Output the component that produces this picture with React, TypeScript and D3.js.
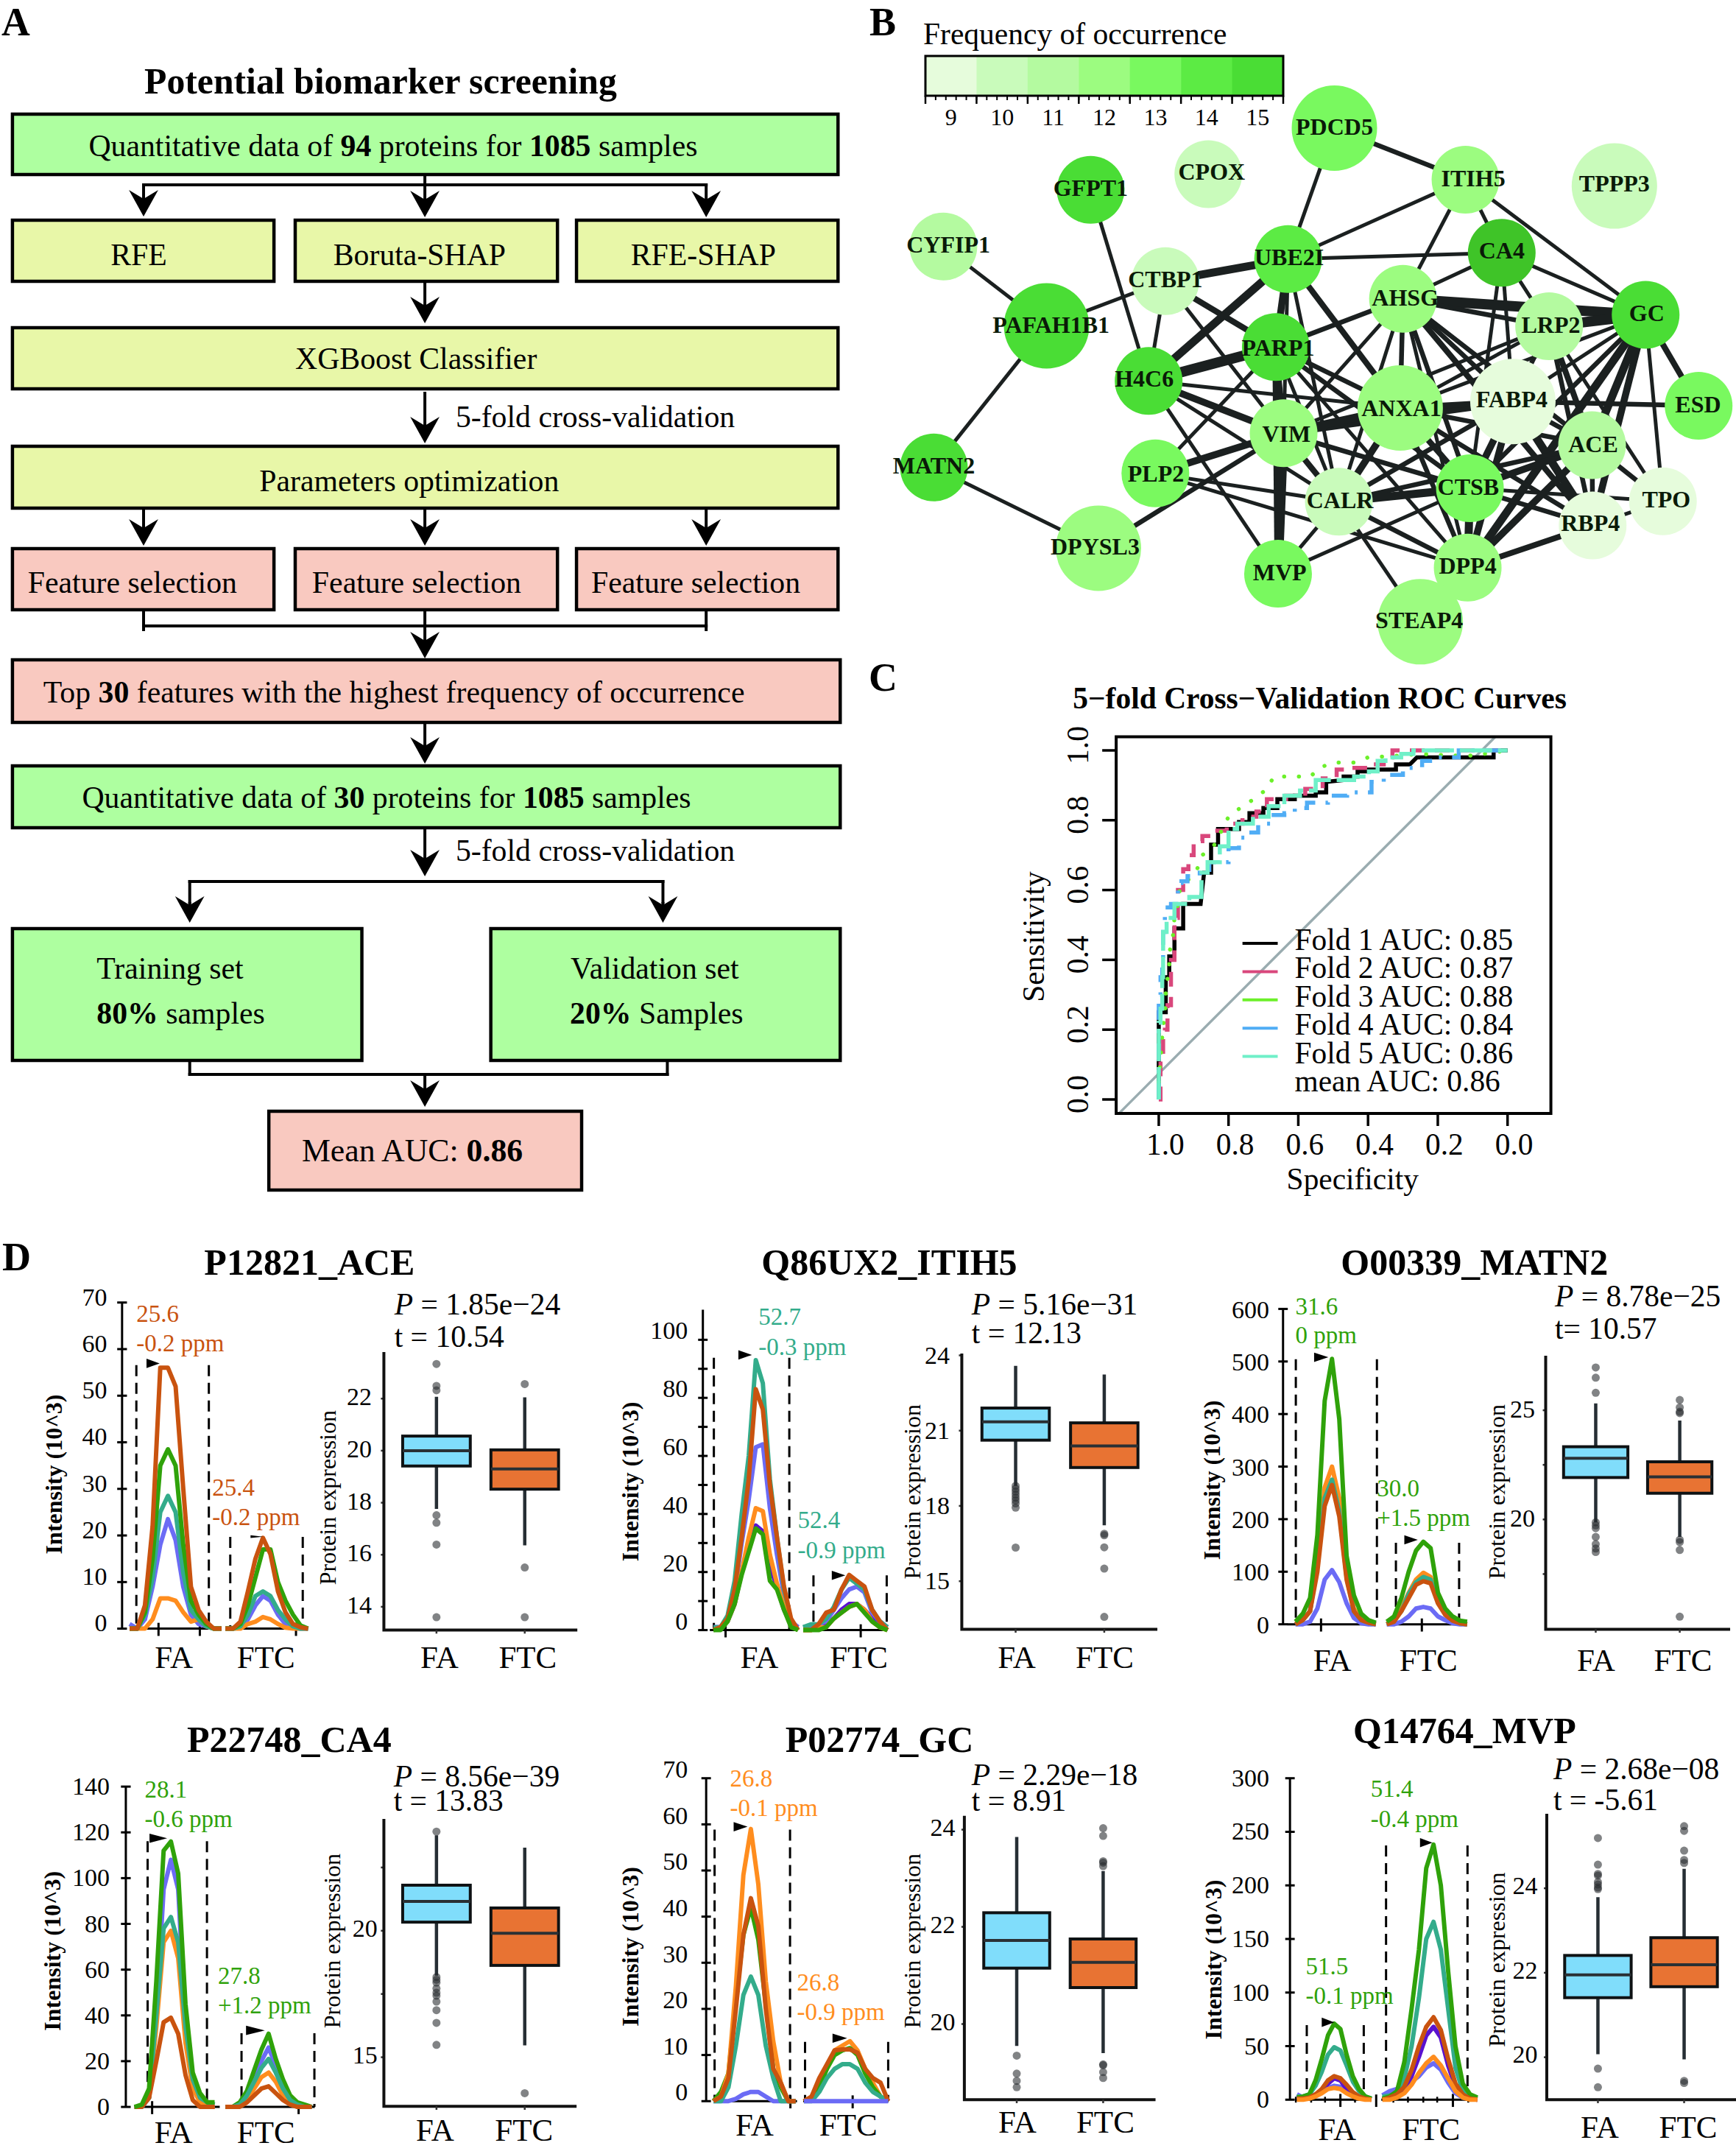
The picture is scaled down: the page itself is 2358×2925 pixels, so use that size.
import * as React from 'react';
import * as d3 from 'd3';

const SERIF = '"Liberation Serif", "Times New Roman", serif';

// ---------- panel A: flow chart ----------
const GREEN = '#AEFFA0';
const YELLOW = '#E8F7A8';
const PINK = '#F9C9C0';

// text parts: plain, **bold** is split on the asterisks
const flowBoxes: [number, number, number, number, string, string, number, number, number?][] = [
    [17, 155, 1127, 82, GREEN, 'Quantitative data of *94* proteins for *1085* samples', 121, 212],
    [17, 299, 357, 83, YELLOW, 'RFE', 151, 360],
    [403, 299, 358, 83, YELLOW, 'Boruta-SHAP', 455, 360],
    [787, 299, 357, 83, YELLOW, 'RFE-SHAP', 861, 360],
    [17, 445, 1127, 83, YELLOW, 'XGBoost Classifier', 403, 501],
    [17, 606, 1127, 84, YELLOW, 'Parameters optimization', 354, 667],
    [17, 745, 357, 83, PINK, 'Feature selection', 38, 805],
    [403, 745, 358, 83, PINK, 'Feature selection', 426, 805],
    [787, 745, 357, 83, PINK, 'Feature selection', 807, 805],
    [17, 896, 1130, 85, PINK, 'Top *30* features with the highest frequency of occurrence', 59, 954],
    [17, 1040, 1130, 84, GREEN, 'Quantitative data of *30* proteins for *1085* samples', 112, 1097],
    [17, 1261, 477, 179, GREEN, 'Training set', 132, 1329],
    [670, 1261, 477, 179, GREEN, 'Validation set', 779, 1329],
    [367, 1509, 427, 107, PINK, 'Mean AUC: *0.86*', 412, 1577, 44],
];
const flowExtraText: [string, number, number][] = [
    ['*80%* samples', 132, 1390],
    ['*20%* Samples', 778, 1390],
    ['5-fold cross-validation', 622, 580],
    ['5-fold cross-validation', 622, 1169],
];
const flowLines: [number, number, number, number][] = [
    [196, 251, 964, 251], [196, 251, 196, 270], [964, 251, 964, 270],
    [196, 850, 964, 850], [196, 828, 196, 855], [964, 828, 964, 855],
    [259, 1197, 905, 1197], [259, 1197, 259, 1225], [905, 1197, 905, 1225],
    [259, 1440, 259, 1459], [911, 1440, 911, 1459], [259, 1459, 911, 1459],
];
const flowArrows: [number, number, number][] = [
    [196, 270, 294], [580, 237, 295], [964, 270, 295],
    [580, 382, 439], [580, 532, 602],
    [196, 690, 741], [580, 690, 741], [964, 690, 741],
    [580, 830, 894], [580, 981, 1037], [580, 1124, 1190],
    [259, 1225, 1253], [905, 1225, 1253], [580, 1459, 1503],
];

// ---------- panel B: network ----------
const freqLevels = [9, 10, 11, 12, 13, 14, 15];
const freqColors = ['#E6FCDC', '#C9FBBB', '#B4FAA0', '#9CFC80', '#79F95F', '#5CEB44', '#4ADD35'];

// name, frequency, large node, layout x, layout y, label x, label baseline
const netNodes: [string, number, boolean, number, number, number, number][] = [
    ['PDCD5', 13, true, 848, 303, 848, 318],
    ['ITIH5', 12, false, 1083, 425, 1097, 440],
    ['TPPP3', 10, true, 1350, 440, 1350, 453],
    ['CPOX', 10, false, 622, 412, 628, 425],
    ['GFPT1', 15, false, 411, 449, 411, 463],
    ['CYFIP1', 11, false, 147, 583, 156, 597],
    ['PAFAH1B1', 15, true, 332, 771, 340, 787],
    ['CTBP1', 10, false, 545, 665, 545, 680],
    ['UBE2I', 14, false, 765, 613, 767, 628],
    ['CA4', 16, false, 1148, 598, 1148, 612],
    ['AHSG', 12, false, 971, 707, 975, 723],
    ['GC', 15, false, 1406, 745, 1408, 760],
    ['LRP2', 11, false, 1233, 772, 1236, 787],
    ['PARP1', 15, false, 743, 821, 747, 842],
    ['H4C6', 15, false, 515, 901, 507, 915],
    ['ANXA1', 12, true, 966, 965, 968, 985],
    ['FABP4', 9, true, 1168, 950, 1166, 963],
    ['ESD', 13, false, 1501, 960, 1500, 975],
    ['ACE', 11, false, 1310, 1053, 1312, 1069],
    ['VIM', 12, false, 757, 1025, 762, 1045],
    ['PLP2', 13, false, 527, 1120, 528, 1140],
    ['MATN2', 15, false, 130, 1106, 130, 1120],
    ['CALR', 10, false, 856, 1187, 858, 1202],
    ['CTSB', 13, false, 1091, 1155, 1088, 1170],
    ['TPO', 9, false, 1437, 1186, 1443, 1200],
    ['RBP4', 9, false, 1311, 1243, 1307, 1257],
    ['DPP4', 12, false, 1087, 1343, 1087, 1357],
    ['MVP', 13, false, 747, 1357, 750, 1372],
    ['DPYSL3', 12, true, 425, 1297, 419, 1312],
    ['STEAP4', 12, true, 1002, 1471, 1000, 1486],
];

const netEdges: [string, string, number][] = [
    ['PDCD5', 'ITIH5', 3], ['PDCD5', 'UBE2I', 2], ['ITIH5', 'UBE2I', 2], ['ITIH5', 'AHSG', 2], ['ITIH5', 'CA4', 2], ['ITIH5', 'GC', 2],
    ['CYFIP1', 'PAFAH1B1', 2], ['PAFAH1B1', 'CTBP1', 2], ['PAFAH1B1', 'MATN2', 2], ['GFPT1', 'H4C6', 2], ['MATN2', 'DPYSL3', 2], ['DPYSL3', 'VIM', 3],
    ['CTBP1', 'UBE2I', 6], ['CTBP1', 'PARP1', 4], ['CTBP1', 'H4C6', 2], ['CTBP1', 'VIM', 2],
    ['UBE2I', 'CA4', 2], ['UBE2I', 'H4C6', 6], ['UBE2I', 'PARP1', 5], ['UBE2I', 'ANXA1', 4], ['UBE2I', 'VIM', 2], ['UBE2I', 'CALR', 2],
    ['PARP1', 'H4C6', 8], ['PARP1', 'AHSG', 3], ['PARP1', 'ANXA1', 3], ['PARP1', 'VIM', 4], ['PARP1', 'MVP', 5], ['PARP1', 'CTSB', 3], ['PARP1', 'DPP4', 2], ['PARP1', 'CALR', 2], ['PARP1', 'PLP2', 2],
    ['H4C6', 'VIM', 5], ['H4C6', 'ANXA1', 2], ['H4C6', 'MVP', 2], ['H4C6', 'CALR', 2],
    ['CA4', 'AHSG', 2], ['CA4', 'GC', 2], ['CA4', 'FABP4', 2], ['CA4', 'LRP2', 2], ['CA4', 'CTSB', 2],
    ['AHSG', 'GC', 8], ['AHSG', 'LRP2', 3], ['AHSG', 'FABP4', 3], ['AHSG', 'ANXA1', 3], ['AHSG', 'VIM', 2], ['AHSG', 'CTSB', 3], ['AHSG', 'CALR', 2], ['AHSG', 'ACE', 3], ['AHSG', 'RBP4', 4], ['AHSG', 'DPP4', 2],
    ['GC', 'LRP2', 8], ['GC', 'FABP4', 2], ['GC', 'ESD', 4], ['GC', 'ACE', 6], ['GC', 'TPO', 2], ['GC', 'RBP4', 5], ['GC', 'CTSB', 3], ['GC', 'ANXA1', 2], ['GC', 'DPP4', 6],
    ['LRP2', 'ANXA1', 2], ['LRP2', 'FABP4', 3], ['LRP2', 'ACE', 4], ['LRP2', 'RBP4', 3], ['LRP2', 'TPO', 2], ['LRP2', 'VIM', 2],
    ['FABP4', 'ESD', 3], ['FABP4', 'VIM', 5], ['ANXA1', 'VIM', 6], ['ANXA1', 'FABP4', 4], ['ANXA1', 'CALR', 5], ['ANXA1', 'CTSB', 4], ['ANXA1', 'ACE', 3], ['ANXA1', 'DPP4', 3], ['ANXA1', 'RBP4', 3],
    ['FABP4', 'CTSB', 5], ['FABP4', 'ACE', 3], ['FABP4', 'RBP4', 6], ['FABP4', 'DPP4', 5], ['FABP4', 'CALR', 3],
    ['ACE', 'CTSB', 5], ['ACE', 'CALR', 3], ['ACE', 'DPP4', 5], ['ACE', 'RBP4', 3], ['ACE', 'TPO', 3],
    ['VIM', 'PLP2', 5], ['VIM', 'CALR', 4], ['VIM', 'CTSB', 3], ['VIM', 'MVP', 7],
    ['PLP2', 'CALR', 2], ['PLP2', 'DPP4', 2],
    ['CALR', 'CTSB', 6], ['CALR', 'MVP', 2], ['CALR', 'DPP4', 3], ['CALR', 'STEAP4', 2],
    ['CTSB', 'MVP', 2], ['CTSB', 'DPP4', 6], ['CTSB', 'RBP4', 3], ['CTSB', 'TPO', 2],
    ['DPP4', 'RBP4', 4], ['RBP4', 'TPO', 2],
];

// ---------- panel C: ROC curves (specificity, sensitivity) ----------
const fold1: [number, number][] = [[1, 0], [1, .25], [.98, .25], [.98, .35], [.97, .35], [.97, .41], [.955, .41], [.955, .49], [.93, .49], [.93, .56], [.88, .56], [.87, .65], [.85, .65], [.85, .73], [.83, .73], [.83, .775], [.77, .775], [.77, .795], [.74, .795], [.74, .82], [.70, .82], [.70, .835], [.66, .835], [.66, .86], [.61, .86], [.61, .87], [.55, .87], [.55, .88], [.52, .88], [.52, .91], [.47, .915], [.47, .925], [.43, .925], [.43, .94], [.40, .94], [.40, .945], [.32, .945], [.32, .96], [.28, .96], [.26, .98], [.04, .98], [.04, 1], [0, 1]];
const fold2: [number, number][] = [[1, 0], [.99, .12], [.985, .18], [.98, .2], [.97, .27], [.96, .40], [.95, .52], [.94, .6], [.92, .66], [.91, .70], [.89, .74], [.86, .755], [.82, .77], [.79, .79], [.73, .81], [.71, .825], [.67, .86], [.6, .87], [.56, .89], [.5, .92], [.48, .945], [.42, .95], [.37, .96], [.34, .98], [.32, 1], [0, 1]];
const fold3: [number, number][] = [[1, .05], [.99, .18], [.985, .23], [.98, .27], [.98, .32], [.97, .37], [.97, .42], [.96, .46], [.955, .52], [.945, .56], [.94, .6], [.89, .66], [.875, .7], [.84, .73], [.8, .81], [.76, .84], [.72, .865], [.69, .89], [.67, .925], [.62, .925], [.565, .925], [.54, .95], [.5, .965], [.44, .965], [.4, .98], [.31, .985], [.25, .99], [.15, .985], [.1, .985], [0, 1]];
const fold4: [number, number][] = [[1, 0], [1, .12], [1, .3], [.99, .35], [.99, .4], [.985, .48], [.98, .55], [.95, .56], [.95, .58], [.94, .62], [.93, .625], [.905, .64], [.86, .65], [.85, .68], [.82, .68], [.78, .72], [.76, .75], [.73, .765], [.7, .79], [.66, .815], [.62, .82], [.6, .835], [.55, .85], [.48, .87], [.44, .88], [.4, .88], [.38, .91], [.33, .93], [.27, .95], [.22, .97], [.18, .98], [.1, 1], [0, 1]];
const fold5: [number, number][] = [[1, 0], [1, .22], [.99, .26], [.99, .35], [.985, .48], [.97, .52], [.94, .56], [.885, .58], [.87, .65], [.85, .68], [.8, .725], [.8, .775], [.75, .79], [.71, .81], [.66, .84], [.62, .87], [.57, .885], [.53, .915], [.46, .915], [.42, .925], [.375, .94], [.37, .97], [.33, .98], [.28, .99], [.26, 1], [0, 1]];
const rocCurves: [[number, number][], string, string, boolean][] = [
    [fold1, '#000000', 'none', false],
    [fold2, '#D9477C', '20 14', true],
    [fold3, '#6CF02A', '0.1 20', false],
    [fold4, '#50ADF5', '22 14 4 14', true],
    [fold5, '#6FF0C8', '44 8', true],
];
const rocLegend = ['Fold 1 AUC: 0.85', 'Fold 2 AUC: 0.87', 'Fold 3 AUC: 0.88', 'Fold 4 AUC: 0.84', 'Fold 5 AUC: 0.86', 'mean AUC: 0.86'];
const rocTicks = [0, 0.2, 0.4, 0.6, 0.8, 1];

// ---------- panel D: peaks and boxes ----------
const TRACE: Record<string, string> = {
    red: '#C9530F', green: '#2FA20A', teal: '#33AC8B', blue: '#6B6BF5', orange: '#FF8D1E', purple: '#5A12CF',
};
type Trace = [string, number[]];

const aceFa: Trace[] = [
    ['blue', [1, 0, 2, 9, 18, 23.5, 19, 9, 3, 1, .5, 0, 0]],
    ['orange', [0, 0, 0, 2, 6.5, 6.5, 6, 3.5, 1.5, 2, .5, 0, 0]],
    ['teal', [0, 0, 3, 11, 25, 28.5, 25, 12, 4, 2, .5, 0, 0]],
    ['green', [0, 0, 3.5, 15, 35, 38.5, 35, 18, 6, 3, 1, 0, 0]],
    ['red', [0, 0, 5, 22, 56, 56, 52, 30, 9, 4, 1.5, 0, 0]],
];
const aceFtc: Trace[] = [
    ['blue', [0, 0, .2, 2, 5, 7, 6, 3, 1, .2, 0, 0]],
    ['orange', [0, 0, 0, 1, 1.5, 2.5, 2, 1, .2, 0, 0, 0]],
    ['teal', [0, 0, .5, 3, 7, 8, 7, 4, 2, .5, 0, 0]],
    ['green', [0, 0, 1, 5, 11, 17, 17, 10, 6, 3, .7, 0]],
    ['red', [0, 0, 1.5, 8, 15, 19.5, 16, 8, 3.5, 1, .3, 0]],
];
const itihFa: Trace[] = [
    ['purple', [1, 1, 3, 9, 20, 28, 36, 34, 22, 15, 7, 2, 1]],
    ['blue', [1, 1, 4, 13, 30, 45, 63, 64, 42, 26, 12, 3, 1]],
    ['teal', [1, 1, 5, 17, 40, 60, 93, 85, 52, 32, 14, 3, 0]],
    ['orange', [0, 1, 3, 9, 20, 32, 42, 41, 26, 16, 8, 2, 0]],
    ['red', [0, 1, 4, 14, 32, 52, 83, 76, 50, 32, 15, 4, 0]],
    ['green', [0, 0, 3, 9, 19, 27, 35, 33, 17, 14, 7, 1, 0]],
];
const itihFtc: Trace[] = [
    ['purple', [1, 1, 1, 2, 4, 7, 9, 9, 7, 4, 2, 1]],
    ['blue', [1, 1, 2, 3, 7, 11, 14, 15, 13, 6, 3, 1]],
    ['teal', [1, 2, 2, 4, 8, 14, 18, 16, 14, 7, 3, 1]],
    ['orange', [0, 0, 1, 1, 4, 6, 8, 9, 7, 3, 1, 0]],
    ['red', [0, 0, 2, 6, 7, 14, 19, 17, 15, 7, 3, 0]],
    ['green', [0, 0, 0, 1, 4, 6, 8, 9, 6, 3, 1, 0]],
];
const matnFa: Trace[] = [
    ['blue', [0, 0, 5, 30, 85, 103, 80, 40, 12, 2, 0, 0]],
    ['orange', [0, 8, 25, 120, 260, 300, 240, 100, 30, 10, 3, 0]],
    ['teal', [0, 8, 25, 115, 240, 275, 215, 90, 25, 8, 3, 0]],
    ['red', [0, 8, 25, 100, 225, 265, 205, 85, 25, 8, 3, 0]],
    ['green', [5, 20, 50, 170, 425, 505, 390, 130, 55, 20, 8, 3]],
];
const matnFtc: Trace[] = [
    ['blue', [0, 0, 5, 15, 30, 33, 30, 15, 8, 2, 0, 0]],
    ['orange', [0, 8, 30, 60, 85, 98, 90, 50, 20, 8, 2, 0]],
    ['teal', [0, 8, 25, 58, 80, 90, 85, 45, 20, 8, 2, 0]],
    ['red', [0, 5, 25, 50, 75, 82, 78, 40, 18, 7, 2, 0]],
    ['green', [5, 15, 50, 100, 140, 157, 145, 60, 30, 15, 7, 5]],
];
const ca4Fa: Trace[] = [
    ['blue', [0, 0, 4, 40, 95, 108, 95, 35, 10, 3, 0, 0]],
    ['orange', [0, 0, 4, 35, 72, 77, 65, 28, 8, 2, 0, 0]],
    ['teal', [0, 0, 4, 40, 78, 83, 72, 35, 12, 4, 2, 1]],
    ['red', [0, 0, 4, 20, 37, 39, 32, 14, 3, 0, 0, 0]],
    ['green', [0, 1, 8, 55, 112, 116, 102, 45, 15, 6, 2, 2]],
];
const ca4Ftc: Trace[] = [
    ['blue', [0, 0, 1, 5, 11, 20, 26, 18, 10, 4, 1, 0, 0]],
    ['orange', [0, 0, 1, 3, 8, 13, 15, 11, 5, 2, 0, 0, 0]],
    ['green', [0, 0, 2, 7, 16, 25, 32, 21, 12, 5, 2, 1, 0]],
    ['teal', [0, 0, 1, 5, 11, 17, 21, 15, 8, 3, 1, 0, 0]],
    ['red', [0, 0, 0, 2, 5, 8, 9, 6, 3, 1, 0, 0, 0]],
];
const gcFa: Trace[] = [
    ['blue', [0, 0, 0, .5, 1.5, 2, 2, 1, 0, 0, 0, 0]],
    ['green', [0, 2, 6, 22, 36, 42, 35, 21, 7, 3, 0, 0]],
    ['orange', [0, 1, 6, 25, 49, 59, 47, 26, 13, 4, 0, 0]],
    ['teal', [0, 0, 3, 12, 23, 27, 23, 12, 5, 0, 0, 0]],
    ['red', [0, 1, 5, 20, 36, 44, 38, 20, 7, 4, 0, 0]],
];
const gcFtc: Trace[] = [
    ['orange', [0, 1, 4, 7, 11, 12, 13, 11, 7, 4, 1, 0]],
    ['green', [0, .5, 3, 7, 10, 11, 11.5, 10, 6, 3, 1, 0]],
    ['teal', [0, 0, 2, 5, 7, 8, 8, 7, 4, 2, 1, 0]],
    ['red', [0, 1, 5, 8, 11, 11.2, 11.2, 10.5, 7, 5, 4, 0]],
    ['blue', [0, 0, 0, 0, 0, 0, 0, 0, 0, 0, 0, 0]],
];
const mvpFa: Trace[] = [
    ['blue', [5, 2, 3, 5, 7, 11, 13, 12, 8, 4, 2, 1, 1]],
    ['purple', [2, 1, 2, 4, 8, 15, 20, 18, 10, 5, 2, 1, 0]],
    ['teal', [3, 3, 5, 13, 26, 42, 49, 46, 32, 17, 8, 3, 1]],
    ['green', [2, 3, 5, 18, 38, 60, 71, 66, 42, 22, 10, 3, 1]],
    ['red', [1, 1, 2, 5, 10, 18, 22, 20, 14, 7, 3, 1, 0]],
    ['orange', [0, 0, 1, 3, 6, 10, 11, 10, 6, 3, 1, 0, 0]],
];
const mvpFtc: Trace[] = [
    ['blue', [4, 8, 10, 13, 17, 22, 30, 34, 28, 16, 6, 2, 1, 0]],
    ['purple', [1, 3, 5, 10, 22, 40, 60, 68, 58, 32, 12, 3, 1, 0]],
    ['teal', [3, 4, 6, 20, 50, 95, 150, 166, 140, 85, 30, 8, 3, 1]],
    ['green', [1, 3, 8, 35, 85, 140, 216, 238, 200, 120, 50, 15, 5, 2]],
    ['red', [0, 2, 5, 12, 28, 50, 68, 77, 65, 38, 15, 5, 1, 0]],
    ['orange', [0, 0, 2, 6, 14, 25, 34, 40, 32, 20, 8, 2, 0, 0]],
];

// hi, q3, median, q1, lo, outliers
type Box = [number, number, number, number, number, number[]];
const aceBoxFa: Box = [22.07, 20.56, 20.0, 19.41, 17.76, [23.33, 22.49, 22.32, 17.52, 17.23, 16.39, 13.6]];
const aceBoxFtc: Box = [22.05, 20.03, 19.3, 18.52, 16.36, [22.56, 15.51, 13.6]];
const itihBoxFa: Box = [23.58, 21.9, 21.35, 20.62, 18.8, [18.8, 18.68, 18.57, 18.45, 18.33, 18.22, 18.1, 17.93, 16.34]];
const itihBoxFtc: Box = [23.24, 21.31, 20.39, 19.53, 17.23, [16.89, 16.83, 16.35, 15.5, 13.58]];
const matnBoxFa: Box = [25.31, 23.33, 22.8, 21.92, 19.87, [26.96, 26.49, 25.8, 19.87, 19.73, 19.6, 19.2, 18.87, 18.67, 18.51]];
const matnBoxFtc: Box = [24.53, 22.64, 21.95, 21.2, 19.2, [25.47, 25.13, 24.93, 24.87, 19.07, 18.96, 18.6, 15.55]];
const ca4BoxFa: Box = [23.77, 21.8, 21.16, 20.34, 18.23, [23.92, 18.17, 18.06, 17.95, 17.72, 17.55, 17.43, 17.2, 16.86, 16.36, 15.49]];
const ca4BoxFtc: Box = [23.28, 20.9, 19.9, 18.63, 15.47, [13.58]];
const gcBoxFa: Box = [23.85, 22.29, 21.72, 21.15, 19.55, [19.35, 18.98, 18.83, 18.7]];
const gcBoxFtc: Box = [23.15, 21.75, 21.27, 20.75, 19.4, [24.03, 23.87, 23.35, 23.32, 23.25, 19.17, 19.15, 19.01, 18.89]];
const mvpBoxFa: Box = [23.79, 22.41, 21.95, 21.41, 20.07, [25.19, 24.56, 24.34, 24.3, 24.15, 24.09, 24.02, 23.98, 19.73, 19.29]];
const mvpBoxFtc: Box = [24.46, 22.83, 22.19, 21.67, 19.95, [25.47, 25.36, 24.89, 24.67, 24.6, 19.44, 19.39]];

// layout numbers of a panel are in units of its own crop: 1568 wide and 1568 high
interface Panel {
    title: string; titleX: number; titleY: number;
    crop: [number, number, number, number];
    yMax: number; yStep: number; yLabelStep: number;
    axisX: number; y0: number; yTop: number; axisTop: number; labelX: number; labelDy: number;
    yTitleX: number; yTitleY: number;
    faBase: [number, number]; ftcBase: [number, number]; xTicks: number[]; minorTicks: number[]; breakX?: number;
    faLabel: number; ftcLabel: number; labelY: number;
    faDash: [number, number, number]; ftcDash: [number, number, number];
    faGrid: [number, number]; ftcGrid: [number, number];
    fa: Trace[]; ftc: Trace[];
    notes: { color: string; x: number; y1: number; y2: number; lines: [string, string]; marker: [number, number, number, number] }[];
    stats: [string, string]; statsX: number; statsY: [number, number];
    boxAxis: { x: number; top: number; bottom: number; right: number };
    boxScale: [number, number, number, number];
    boxTicks: number[]; boxLabels: number[]; boxLabelX: number; boxLabelDy: number;
    faBox: Box; ftcBox: Box;
    faC: number; ftcC: number; halfW: number;
    boxFaLabel: number; boxFtcLabel: number; boxLabelY: number;
    protX: number; protY: number;
}

const panels: Panel[] = [
    {
        title: 'P12821_ACE', titleX: 824, titleY: 180, crop: [0, 1660, 800, 620],
        yMax: 70, yStep: 10, yLabelStep: 10, axisX: 325, y0: 1395, yTop: 275, axisTop: 275, labelX: 285, labelDy: -18,
        yTitleX: 165, yTitleY: 865, faBase: [345, 590], ftcBase: [600, 820], xTicks: [422, 532, 788], minorTicks: [],
        faLabel: 463, ftcLabel: 708, labelY: 1530, faDash: [363, 556, 490], ftcDash: [613, 806, 1080],
        faGrid: [345, 590], ftcGrid: [600, 820], fa: aceFa, ftc: aceFtc,
        notes: [
            { color: TRACE.red, x: 363, y1: 342, y2: 443, lines: ['25.6', '-0.2 ppm'], marker: [390, 425, 484, 32] },
            { color: TRACE.red, x: 565, y1: 938, y2: 1040, lines: ['25.4', '-0.2 ppm'], marker: [667, 700, 1079, 10] },
        ],
        stats: ['1.85e\u221224', 't = 10.54'], statsX: 1050, statsY: [315, 428],
        boxAxis: { x: 1022, top: 445, bottom: 1400, right: 1537 }, boxScale: [14, 1320, 22, 605],
        boxTicks: [14, 16, 18, 20, 22], boxLabels: [14, 16, 18, 20, 22], boxLabelX: 990, boxLabelDy: -5,
        faBox: aceBoxFa, ftcBox: aceBoxFtc, faC: 1162, ftcC: 1397, halfW: 90,
        boxFaLabel: 1170, boxFtcLabel: 1405, boxLabelY: 1530, protX: 893, protY: 945,
    },
    {
        title: 'Q86UX2_ITIH5', titleX: 820, titleY: 180, crop: [800, 1660, 780, 620],
        yMax: 100, yStep: 10, yLabelStep: 20, axisX: 311, y0: 1400, yTop: 403, axisTop: 300, labelX: 270, labelDy: -30,
        yTitleX: 135, yTitleY: 890, faBase: [330, 568], ftcBase: [585, 815], xTicks: [373, 742], minorTicks: [],
        faLabel: 465, ftcLabel: 737, labelY: 1530, faDash: [341, 547, 465], ftcDash: [613, 813, 1212],
        faGrid: [340, 571], ftcGrid: [585, 815], fa: itihFa, ftc: itihFtc,
        notes: [
            { color: TRACE.teal, x: 463, y1: 352, y2: 455, lines: ['52.7', '-0.3 ppm'], marker: [408, 445, 455, 32] },
            { color: TRACE.teal, x: 570, y1: 1050, y2: 1153, lines: ['52.4', '-0.9 ppm'], marker: [663, 700, 1212, 32] },
        ],
        stats: ['5.16e\u221231', 't = 12.13'], statsX: 1045, statsY: [315, 415],
        boxAxis: { x: 1018, top: 450, bottom: 1397, right: 1552 }, boxScale: [15, 1232, 21, 715],
        boxTicks: [15, 18, 21, 24], boxLabels: [15, 18, 21, 24], boxLabelX: 985, boxLabelDy: 0,
        faBox: itihBoxFa, ftcBox: itihBoxFtc, faC: 1165, ftcC: 1407, halfW: 92,
        boxFaLabel: 1168, boxFtcLabel: 1408, boxLabelY: 1530, protX: 905, protY: 925,
    },
    {
        title: 'O00339_MATN2', titleX: 852, titleY: 180, crop: [1580, 1660, 778, 620],
        yMax: 600, yStep: 100, yLabelStep: 100, axisX: 328, y0: 1380, yTop: 297, axisTop: 297, labelX: 290, labelDy: 3,
        yTitleX: 155, yTitleY: 885, faBase: [340, 582], ftcBase: [612, 832], xTicks: [432, 708], minorTicks: [],
        faLabel: 463, ftcLabel: 726, labelY: 1540, faDash: [363, 585, 470], ftcDash: [637, 810, 1100],
        faGrid: [362, 582], ftcGrid: [612, 832], fa: matnFa, ftc: matnFtc,
        notes: [
            { color: TRACE.green, x: 362, y1: 315, y2: 415, lines: ['31.6', '0 ppm'], marker: [413, 452, 463, 32] },
            { color: TRACE.green, x: 585, y1: 942, y2: 1043, lines: ['30.0', '+1.5 ppm'], marker: [660, 697, 1090, 32] },
        ],
        stats: ['8.78e\u221225', 't= 10.57'], statsX: 1072, statsY: [288, 400],
        boxAxis: { x: 1047, top: 458, bottom: 1397, right: 1552 }, boxScale: [20, 1020, 25, 645],
        boxTicks: [17.5, 20, 22.5, 25], boxLabels: [20, 25], boxLabelX: 1018, boxLabelDy: -3,
        faBox: matnBoxFa, ftcBox: matnBoxFtc, faC: 1184, ftcC: 1414, halfW: 88,
        boxFaLabel: 1185, boxFtcLabel: 1423, boxLabelY: 1540, protX: 935, protY: 925,
    },
    {
        title: 'P22748_CA4', titleX: 770, titleY: 175, crop: [0, 2310, 800, 615],
        yMax: 140, yStep: 20, yLabelStep: 20, axisX: 335, y0: 1405, yTop: 296, axisTop: 296, labelX: 292, labelDy: 0,
        yTitleX: 160, yTitleY: 865, faBase: [358, 585], ftcBase: [600, 838], xTicks: [405, 795], minorTicks: [],
        faLabel: 462, ftcLabel: 708, labelY: 1530, faDash: [393, 551, 485], ftcDash: [643, 837, 1150],
        faGrid: [358, 571.4], ftcGrid: [600, 830], fa: ca4Fa, ftc: ca4Ftc,
        notes: [
            { color: TRACE.green, x: 385, y1: 335, y2: 437, lines: ['28.1', '-0.6 ppm'], marker: [398, 445, 475, 32] },
            { color: TRACE.green, x: 580, y1: 978, y2: 1080, lines: ['27.8', '+1.2 ppm'], marker: [655, 705, 1140, 32] },
        ],
        stats: ['8.56e\u221239', 't = 13.83'], statsX: 1048, statsY: [295, 380],
        boxAxis: { x: 1022, top: 408, bottom: 1403, right: 1535 }, boxScale: [15, 1233, 20, 795],
        boxTicks: [15, 17.5, 20, 22.5], boxLabels: [15, 20], boxLabelX: 1005, boxLabelDy: -6,
        faBox: ca4BoxFa, ftcBox: ca4BoxFtc, faC: 1162, ftcC: 1397, halfW: 90,
        boxFaLabel: 1158, boxFtcLabel: 1395, boxLabelY: 1522, protX: 905, protY: 830,
    },
    {
        title: 'P02774_GC', titleX: 793, titleY: 175, crop: [800, 2310, 780, 615],
        yMax: 70, yStep: 10, yLabelStep: 10, axisX: 320, y0: 1385, yTop: 267, axisTop: 267, labelX: 270, labelDy: -30,
        yTitleX: 135, yTitleY: 850, faBase: [345, 568], ftcBase: [585, 818], xTicks: [550, 720], minorTicks: [],
        faLabel: 452, ftcLabel: 708, labelY: 1505, faDash: [343, 549, 445], ftcDash: [590, 817, 1180],
        faGrid: [340, 564.4], ftcGrid: [587, 817], fa: gcFa, ftc: gcFtc,
        notes: [
            { color: TRACE.orange, x: 385, y1: 295, y2: 397, lines: ['26.8', '-0.1 ppm'], marker: [395, 433, 435, 32] },
            { color: TRACE.orange, x: 568, y1: 1003, y2: 1105, lines: ['26.8', '-0.9 ppm'], marker: [665, 705, 1167, 32] },
        ],
        stats: ['2.29e\u221218', 't = 8.91'], statsX: 1045, statsY: [290, 380],
        boxAxis: { x: 1025, top: 397, bottom: 1380, right: 1547 }, boxScale: [20, 1118, 24, 445],
        boxTicks: [20, 22, 24], boxLabels: [20, 22, 24], boxLabelX: 1000, boxLabelDy: -6,
        faBox: gcBoxFa, ftcBox: gcBoxFtc, faC: 1168, ftcC: 1404, halfW: 90,
        boxFaLabel: 1170, boxFtcLabel: 1410, boxLabelY: 1495, protX: 905, protY: 830,
    },
    {
        title: 'Q14764_MVP', titleX: 825, titleY: 145, crop: [1580, 2310, 778, 615],
        yMax: 300, yStep: 50, yLabelStep: 50, axisX: 347, y0: 1380, yTop: 267, axisTop: 267, labelX: 290, labelDy: 0,
        yTitleX: 160, yTitleY: 895, faBase: [362, 568], ftcBase: [597, 857], xTicks: [485, 793],
        minorTicks: [363, 405, 443, 525, 630, 670, 712, 750, 835], breakX: 583,
        faLabel: 476, ftcLabel: 733, labelY: 1520, faDash: [393, 549, 1122], ftcDash: [610, 833, 500],
        faGrid: [366, 570], ftcGrid: [600, 860], fa: mvpFa, ftc: mvpFtc,
        notes: [
            { color: TRACE.green, x: 390, y1: 945, y2: 1047, lines: ['51.5', '-0.1 ppm'], marker: [434, 468, 1112, 32] },
            { color: TRACE.green, x: 568, y1: 332, y2: 435, lines: ['51.4', '-0.4 ppm'], marker: [703, 737, 490, 32] },
        ],
        stats: ['2.68e\u221208', 't = -5.61'], statsX: 1068, statsY: [270, 378],
        boxAxis: { x: 1050, top: 390, bottom: 1380, right: 1568 }, boxScale: [20, 1233, 24, 648],
        boxTicks: [20, 22, 24], boxLabels: [20, 22, 24], boxLabelX: 1025, boxLabelDy: -8,
        faBox: mvpBoxFa, ftcBox: mvpBoxFtc, faC: 1190, ftcC: 1426, halfW: 91,
        boxFaLabel: 1195, boxFtcLabel: 1437, boxLabelY: 1512, protX: 935, protY: 895,
    },
];

const Rich: React.FC<{ s: string; x: number; y: number; size: number }> = ({ s, x, y, size }) => (
    <text x={x} y={y} fontFamily={SERIF} fontSize={size} fill="#000">
        {s.split('*').map((part, i) => (
            <tspan key={i} fontWeight={i % 2 ? 'bold' : 'normal'}>{part}</tspan>
        ))}
    </text>
);

const Arrow: React.FC<{ x: number; from: number; to: number }> = ({ x, from, to }) => (
    <g>
        <line x1={x} x2={x} y1={from} y2={to - 20} stroke="#000" strokeWidth={4} />
        <path d={`M${x},${to}L${x - 20},${to - 36}L${x},${to - 24}L${x + 20},${to - 36}Z`} fill="#000" />
    </g>
);

const FlowChart: React.FC = () => (
    <g transform="scale(0.995,1)">
        <text x={2} y={48.5} fontFamily={SERIF} fontSize={54} fontWeight="bold">A</text>
        <text x={197} y={127} fontFamily={SERIF} fontSize={50} fontWeight="bold">Potential biomarker screening</text>
        {flowLines.map((l, i) => (
            <line key={i} x1={l[0]} y1={l[1]} x2={l[2]} y2={l[3]} stroke="#000" strokeWidth={4} strokeLinecap="square" />
        ))}
        {flowArrows.map((a, i) => <Arrow key={i} x={a[0]} from={a[1]} to={a[2]} />)}
        {flowBoxes.map((b, i) => (
            <g key={i}>
                <rect x={b[0]} y={b[1]} width={b[2]} height={b[3]} fill={b[4]} stroke="#000" strokeWidth={4.5} />
                <Rich s={b[5]} x={b[6]} y={b[7]} size={b[8] ?? 42} />
            </g>
        ))}
        {flowExtraText.map((t, i) => <Rich key={i} s={t[0]} x={t[1]} y={t[2]} size={42} />)}
    </g>
);

const Network: React.FC = () => {
    const nx = d3.scaleLinear().domain([0, 1568]).range([1170, 2358]);
    const ny = d3.scaleLinear().domain([0, 1568]).range([0, 900]);
    const color = d3.scaleOrdinal<number, string>().domain([...freqLevels, 16]).range([...freqColors, '#3FC428']);
    const band = d3.scaleBand<number>().domain(freqLevels).range([1257, 1743]);
    const byName = new Map(netNodes.map(n => [n[0], n]));
    const edgeWidth = d3.scaleLinear().domain([2, 8]).range([5, 14]);
    const minor = d3.range(0, 35).map(i => 1257 + (i * 486) / 35);
    return (
        <g>
            <text x={1181} y={48} fontFamily={SERIF} fontSize={54} fontWeight="bold">B</text>
            <text x={1254} y={60} fontFamily={SERIF} fontSize={41.5}>Frequency of occurrence</text>
            {freqLevels.map(f => (
                <rect key={f} x={band(f)} y={76} width={band.bandwidth() + 0.5} height={54} fill={color(f)} />
            ))}
            <rect x={1257} y={76} width={486} height={54} fill="none" stroke="#000" strokeWidth={3} />
            {minor.map((x, i) => <line key={i} x1={x} x2={x} y1={130} y2={136} stroke="#000" strokeWidth={2} />)}
            {[...freqLevels.map(f => band(f) as number), 1743].map((x, i) => (
                <line key={i} x1={x} x2={x} y1={130} y2={141} stroke="#000" strokeWidth={2.5} />
            ))}
            {freqLevels.map(f => (
                <text key={f} x={(band(f) as number) + band.bandwidth() / 2} y={170} textAnchor="middle" fontFamily={SERIF} fontSize={32}>{f}</text>
            ))}
            {netEdges.map(([a, b, w], i) => {
                const na = byName.get(a)!;
                const nb = byName.get(b)!;
                return <line key={i} x1={nx(na[3])} y1={ny(na[4])} x2={nx(nb[3])} y2={ny(nb[4])} stroke="#1B2020" strokeWidth={edgeWidth(w)} />;
            })}
            {netNodes.map(n => (
                <circle key={n[0]} cx={nx(n[3])} cy={ny(n[4])} r={n[2] ? 58 : 46} fill={color(n[1])} />
            ))}
            {netNodes.map(n => (
                <text key={n[0]} x={nx(n[5])} y={ny(n[6])} textAnchor="middle" fontFamily={SERIF} fontWeight="bold" fontSize={32} fill="#0a1a08">{n[0]}</text>
            ))}
        </g>
    );
};

const Roc: React.FC = () => {
    const x = d3.scaleLinear().domain([1, 0]).range([1575, 2050]);
    const y = d3.scaleLinear().domain([0, 1]).range([1493, 1019]);
    const legendY = d3.scaleLinear().domain([0, 1]).range([1290, 1328.4]);
    return (
        <g transform="translate(1170,0) scale(0.9974,1) translate(-1170,0)">
            <text x={1180} y={938} fontFamily={SERIF} fontSize={54} fontWeight="bold">C</text>
            <text x={1458} y={962} fontFamily={SERIF} fontSize={41.6} fontWeight="bold">5{'\u2212'}fold Cross{'\u2212'}Validation ROC Curves</text>
            <line x1={x(1.114)} y1={y(-0.04)} x2={x(0.034)} y2={y(1.04)} stroke="#9AACB0" strokeWidth={3.5} />
            {rocCurves.map(([pts, stroke, dash, stepped], i) => {
                const line = d3.line<[number, number]>().x(d => x(d[0])).y(d => y(d[1])).curve(stepped ? d3.curveStep : d3.curveLinear);
                return (
                    <path key={i} d={line(pts) ?? ''} fill="none" stroke={stroke} strokeWidth={5.5}
                        strokeDasharray={dash === 'none' ? undefined : dash}
                        strokeLinecap={dash === '0.1 20' ? 'round' : 'butt'} />
                );
            })}
            <rect x={1517} y={1000.5} width={592} height={511.5} fill="none" stroke="#000" strokeWidth={4} />
            {rocTicks.map(t => (
                <g key={t}>
                    <line x1={x(t)} x2={x(t)} y1={1512} y2={1529} stroke="#000" strokeWidth={3.5} />
                    <text x={x(t) + 9} y={1568} textAnchor="middle" fontFamily={SERIF} fontSize={41.5}>{t.toFixed(1)}</text>
                    <line x1={1498} x2={1517} y1={y(t)} y2={y(t)} stroke="#000" strokeWidth={3.5} />
                    <text transform={`translate(1479,${y(t) - 7}) rotate(-90)`} textAnchor="middle" fontFamily={SERIF} fontSize={41.5}>{t.toFixed(1)}</text>
                </g>
            ))}
            <text x={1839} y={1615} textAnchor="middle" fontFamily={SERIF} fontSize={41.5}>Specificity</text>
            <text transform="translate(1419,1272) rotate(-90)" textAnchor="middle" fontFamily={SERIF} fontSize={41.5}>Sensitivity</text>
            {rocLegend.map((t, i) => (
                <g key={t}>
                    {i < 5 && <line x1={1689} x2={1737} y1={legendY(i) - 9} y2={legendY(i) - 9} stroke={rocCurves[i][1]} strokeWidth={4} />}
                    <text x={1760} y={legendY(i)} fontFamily={SERIF} fontSize={41.5}>{t}</text>
                </g>
            ))}
        </g>
    );
};

const PeakPanel: React.FC<{ p: Panel }> = ({ p }) => {
    const [cx0, cy0, cw, ch] = p.crop;
    const X = d3.scaleLinear().domain([0, 1568]).range([cx0, cx0 + cw]);
    const Y = d3.scaleLinear().domain([0, 1568]).range([cy0, cy0 + ch]);
    const yInt = d3.scaleLinear().domain([0, p.yMax]).range([Y(p.y0), Y(p.yTop)]);
    const ticks = d3.range(0, p.yMax + 0.001, p.yStep);
    const yBox = d3.scaleLinear().domain([p.boxScale[0], p.boxScale[2]]).range([Y(p.boxScale[1]), Y(p.boxScale[3])]);
    const bw = X(p.halfW) - X(0);

    const traces = (list: Trace[], grid: [number, number]) => list.map(([name, vals], i) => {
        const xg = d3.scaleLinear().domain([0, vals.length - 1]).range([X(grid[0]), X(grid[1])]);
        const line = d3.line<number>().x((_, j) => xg(j)).y(d => yInt(d));
        return <path key={i} d={line(vals) ?? ''} fill="none" stroke={TRACE[name]} strokeWidth={6} strokeLinejoin="round" />;
    });

    const dashes = (d: [number, number, number]) => [d[0], d[1]].map(v => (
        <line key={v} x1={X(v)} x2={X(v)} y1={Y(d[2])} y2={Y(p.y0)} stroke="#000" strokeWidth={3} strokeDasharray="15 9" />
    ));

    const drawBox = (b: Box, c: number, fill: string) => {
        const cxp = X(c);
        return (
            <g>
                <line x1={cxp} x2={cxp} y1={yBox(b[0])} y2={yBox(b[4])} stroke="#262E34" strokeWidth={4.5} />
                {b[5].map((o, i) => <circle key={i} cx={cxp} cy={yBox(o)} r={5.5} fill="#26292C" fillOpacity={0.58} />)}
                <rect x={cxp - bw} y={yBox(b[1])} width={bw * 2} height={yBox(b[3]) - yBox(b[1])} fill={fill} stroke="#0E1214" strokeWidth={4} />
                <line x1={cxp - bw} x2={cxp + bw} y1={yBox(b[2])} y2={yBox(b[2])} stroke="#2A3034" strokeWidth={4} />
            </g>
        );
    };

    return (
        <g fontFamily={SERIF}>
            <text x={X(p.titleX)} y={Y(p.titleY)} textAnchor="middle" fontWeight="bold" fontSize={50}>{p.title}</text>
            <line x1={X(p.axisX)} x2={X(p.axisX)} y1={Y(p.axisTop)} y2={Y(p.y0)} stroke="#000" strokeWidth={3} />
            {ticks.map(t => (
                <g key={t}>
                    <line x1={X(p.axisX - 13)} x2={X(p.axisX + 13)} y1={yInt(t)} y2={yInt(t)} stroke="#000" strokeWidth={3} />
                    {Math.abs(t % p.yLabelStep) < 1e-6 && (
                        <text x={X(p.labelX)} y={yInt(t) + Y(p.labelDy) - Y(0) + 11} textAnchor="end" fontSize={34}>{t}</text>
                    )}
                </g>
            ))}
            <text transform={`translate(${X(p.yTitleX)},${Y(p.yTitleY)}) rotate(-90)`} textAnchor="middle" fontWeight="bold" fontSize={32}>Intensity (10^3)</text>
            {[p.faBase, p.ftcBase].map((b, i) => (
                <line key={i} x1={X(b[0])} x2={X(b[1])} y1={Y(p.y0)} y2={Y(p.y0)} stroke="#000" strokeWidth={3} />
            ))}
            {p.xTicks.map(t => <line key={t} x1={X(t)} x2={X(t)} y1={Y(p.y0 - 20)} y2={Y(p.y0 + 25)} stroke="#000" strokeWidth={3} />)}
            {p.minorTicks.map(t => <line key={t} x1={X(t)} x2={X(t)} y1={Y(p.y0 - 10)} y2={Y(p.y0 + 10)} stroke="#000" strokeWidth={2.5} />)}
            {p.breakX !== undefined && <line x1={X(p.breakX)} x2={X(p.breakX)} y1={Y(p.y0 - 18)} y2={Y(p.y0 + 25)} stroke="#000" strokeWidth={3} />}
            {dashes(p.faDash)}
            {dashes(p.ftcDash)}
            {traces(p.fa, p.faGrid)}
            {traces(p.ftc, p.ftcGrid)}
            {p.notes.map((n, i) => (
                <g key={i} fill={n.color} fontSize={33}>
                    <text x={X(n.x)} y={Y(n.y1)}>{n.lines[0]}</text>
                    <text x={X(n.x)} y={Y(n.y2)}>{n.lines[1]}</text>
                    <path d={`M${X(n.marker[0])},${Y(n.marker[2] - n.marker[3] / 2)}L${X(n.marker[1])},${Y(n.marker[2])}L${X(n.marker[0])},${Y(n.marker[2] + n.marker[3] / 2)}Z`} fill="#000" />
                </g>
            ))}
            <text x={X(p.faLabel)} y={Y(p.labelY)} textAnchor="middle" fontSize={43}>FA</text>
            <text x={X(p.ftcLabel)} y={Y(p.labelY)} textAnchor="middle" fontSize={43}>FTC</text>

            <text x={X(p.statsX)} y={Y(p.statsY[0])} fontSize={41.5}><tspan fontStyle="italic">P</tspan> = {p.stats[0]}</text>
            <text x={X(p.statsX)} y={Y(p.statsY[1])} fontSize={41.5}>{p.stats[1]}</text>
            <text transform={`translate(${X(p.protX)},${Y(p.protY)}) rotate(-90)`} textAnchor="middle" fontSize={32}>Protein expression</text>
            {p.boxTicks.map(t => <line key={t} x1={X(p.boxAxis.x - 8)} x2={X(p.boxAxis.x)} y1={yBox(t)} y2={yBox(t)} stroke="#333" strokeWidth={2.5} />)}
            {p.boxLabels.map(t => (
                <text key={t} x={X(p.boxLabelX)} y={yBox(t) + Y(p.boxLabelDy) - Y(0) + 11} textAnchor="end" fontSize={34}>{t}</text>
            ))}
            {drawBox(p.faBox, p.faC, '#80DDFB')}
            {drawBox(p.ftcBox, p.ftcC, '#E87333')}
            <path d={`M${X(p.boxAxis.x)},${Y(p.boxAxis.top)}V${Y(p.boxAxis.bottom)}H${X(p.boxAxis.right)}`} fill="none" stroke="#111" strokeWidth={4} />
            {[p.faC, p.ftcC].map(c => <line key={c} x1={X(c)} x2={X(c)} y1={Y(p.boxAxis.bottom)} y2={Y(p.boxAxis.bottom + 12)} stroke="#333" strokeWidth={2.5} />)}
            <text x={X(p.boxFaLabel)} y={Y(p.boxLabelY)} textAnchor="middle" fontSize={43}>FA</text>
            <text x={X(p.boxFtcLabel)} y={Y(p.boxLabelY)} textAnchor="middle" fontSize={43}>FTC</text>
        </g>
    );
};

const App: React.FC = () => (
    <svg width={2358} height={2925} style={{ position: 'absolute', left: 0, top: 0, background: '#fff' }}>
        <FlowChart />
        <Network />
        <Roc />
        <text x={3} y={1725} fontFamily={SERIF} fontSize={54} fontWeight="bold">D</text>
        {panels.map(p => <PeakPanel key={p.title} p={p} />)}
    </svg>
);

export default App;
